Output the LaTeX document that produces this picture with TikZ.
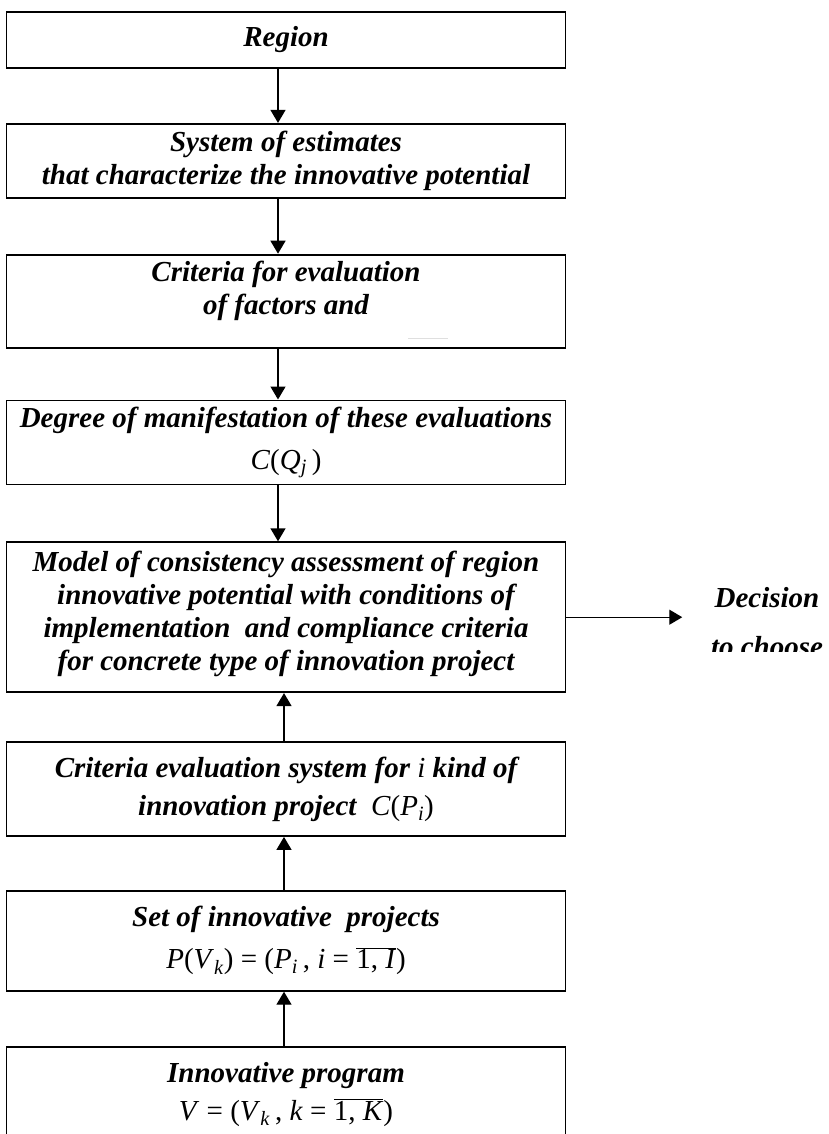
\documentclass[tikz,border=0pt]{standalone}
\usepackage{fontspec}
\setmainfont{Liberation Serif}
\usetikzlibrary{arrows.meta,positioning}

\newcommand{\vv}[1]{\textit{#1}}
\newcommand{\sbs}[1]{\textsubscript{\textit{#1}}}
\newcommand{\fml}[1]{{\mdseries\upshape #1}}
\newcommand{\ovl}[1]{$\overline{\hbox{#1}}$}

\begin{document}
\begin{tikzpicture}[x=1pt,y=1pt,>={Triangle[length=13pt,width=15pt]},thick,
    block/.style={draw,line width=1.8pt,minimum width=559pt,inner sep=0pt,align=center,
        font=\bfseries\itshape\fontsize{29}{33}\selectfont},
    label text/.style={font=\bfseries\itshape\fontsize{29}{33}\selectfont,inner sep=0pt,anchor=base},
    link/.style={->,line width=1.4pt}]

    \useasboundingbox (0,0) rectangle (829,-1134);

    \node[block,minimum height=56pt] (region) at (286,-40) {Region};
    \node[block,minimum height=74pt] (estimates) [below=54pt of region]
        {System of estimates\\that characterize the innovative potential};
    \node[block,minimum height=93pt] (criteria) [below=55pt of estimates]
        {Criteria for evaluation\\of factors and\vphantom{g}\\[-6pt]};
    \node[block,minimum height=84pt] (degree) [below=51pt of criteria]
        {Degree of manifestation of these evaluations\\[9pt]\fml{\vv{C}(\vv{Q}\sbs{j}\,)}};
    \node[block,minimum height=150pt] (model) [below=56pt of degree]
        {Model of consistency assessment of region\\innovative potential with conditions of\\
         implementation\ \ and compliance criteria\\for concrete type of innovation project\\[-21pt]};
    \node[block,minimum height=94pt] (criteval) [below=48pt of model]
        {Criteria evaluation system for \fml{\vv{i}} kind of\\[5pt]innovation project\ \ \fml{\vv{C}(\vv{P}\sbs{i})}};
    \node[block,minimum height=100pt] (projects) [below=53pt of criteval]
        {Set of innovative\ \ projects\\[9pt]\fml{\vv{P}(\vv{V}\sbs{k}) = (\vv{P}\sbs{i}\,, \vv{i} = \ovl{1, \vv{I}})}};
    \node[block,minimum height=95pt] (program) [below=54pt of projects]
        {Innovative program\\[5pt]\fml{\vv{V} = (\vv{V}\sbs{k}\,, \vv{k} = \ovl{1, \vv{K}})}};

    % faint mark left in the third box
    \draw[gray!25,line width=1pt] (408,-338) -- (448,-338);

    \begin{scope}
        \clip (600,-560) rectangle (829,-651);
        \node[label text] (decision) at (767,-607) {Decision};
        \node[label text] (choose) at (767,-656) {to choose};
    \end{scope}

    \foreach \a/\b in {region/estimates,estimates/criteria,criteria/degree,degree/model}
        \draw[link] ([xshift=-8pt]\a.south) -- ([xshift=-8pt]\b.north);

    \foreach \a/\b in {criteval/model,projects/criteval,program/projects}
        \draw[link] ([xshift=-2pt]\a.north) -- ([xshift=-2pt]\b.south);

    \draw[link,shorten >=32pt] (model.east) -- (model.east -| decision.west);

\end{tikzpicture}
\end{document}
